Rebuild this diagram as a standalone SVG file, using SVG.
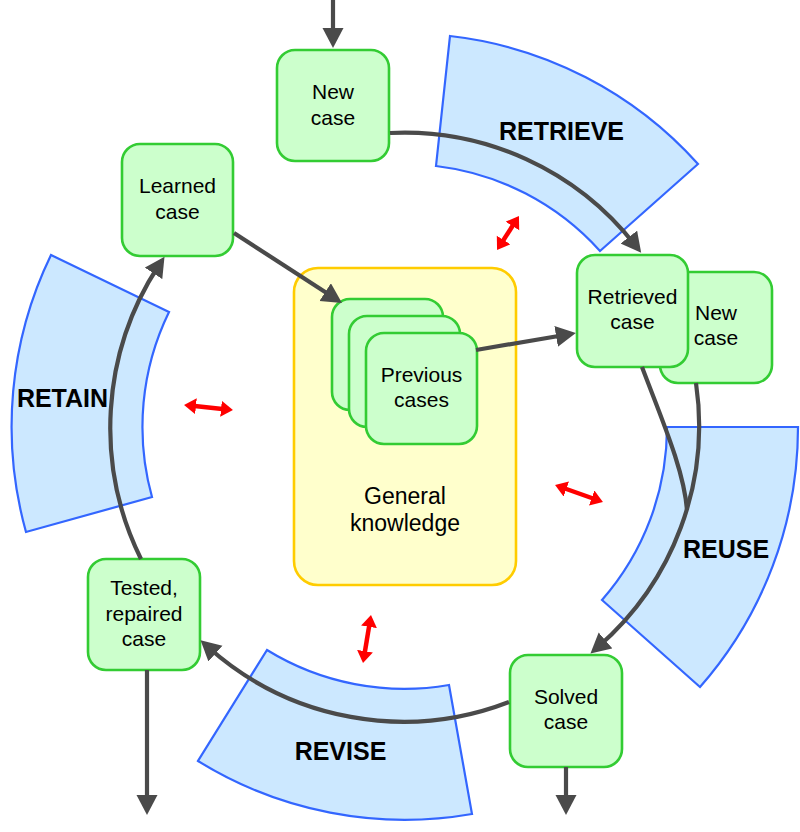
<svg xmlns="http://www.w3.org/2000/svg" width="800" height="832" viewBox="0 0 800 832">
<style>
.sector{fill:#cce8ff;stroke:#3366ff;stroke-width:2.2}
.node{fill:#ccffcc;stroke:#33cc33;stroke-width:2.6}
.gk{fill:#ffffcc;stroke:#ffcc00;stroke-width:2.6}
.conn{fill:none;stroke:#4a4a4a;stroke-width:4.2}
.red{fill:none;stroke:#ff0000;stroke-width:4.5}
.t{font-family:"Liberation Sans",Arial,sans-serif;font-size:21px;fill:#000;text-anchor:middle}
.gt{font-family:"Liberation Sans",Arial,sans-serif;font-size:23px;fill:#000;text-anchor:middle}
.lbl{font-family:"Liberation Sans",Arial,sans-serif;font-size:25px;font-weight:bold;fill:#000;text-anchor:middle}
</style>
<defs>
<marker id="ah" markerUnits="userSpaceOnUse" markerWidth="22" markerHeight="22" refX="10" refY="10.5" orient="auto"><path d="M0,0 L20,10.5 L0,21 z" fill="#4a4a4a"/></marker>
<marker id="rh" markerUnits="userSpaceOnUse" markerWidth="14" markerHeight="18" refX="6" refY="8" orient="auto-start-reverse"><path d="M0,0 L12,8 L0,16 z" fill="#ff0000"/></marker>
</defs>

<g id="sector-retrieve">
<path class="sector" d="M450,36 A393,393 0 0 1 698,164 L600,251 A262,262 0 0 0 436,166 Z"/>
<text class="lbl" x="561.5" y="140">RETRIEVE</text>
</g>
<g id="sector-reuse">
<path class="sector" d="M798,427 A393,393 0 0 1 700,687 L602,600 A262,262 0 0 0 667,427 Z"/>
<text class="lbl" x="726" y="558">REUSE</text>
</g>
<g id="sector-revise">
<path class="sector" d="M472,814 A393,393 0 0 1 198,761 L267,650 A262,262 0 0 0 449,685 Z"/>
<text class="lbl" x="340.5" y="760">REVISE</text>
</g>
<g id="sector-retain">
<path class="sector" d="M26,532 A393,393 0 0 1 51,255 L169,312 A262,262 0 0 0 152,497 Z"/>
<text class="lbl" x="62.5" y="407">RETAIN</text>
</g>

<g id="general-knowledge">
<rect class="gk" x="294" y="268" width="222" height="317" rx="24"/>
<text class="gt" x="405" y="504">General</text>
<text class="gt" x="405" y="531">knowledge</text>
</g>

<g id="new-case">
<rect class="node" x="277" y="50" width="112" height="111" rx="18"/>
<text class="t" x="333" y="99">New</text>
<text class="t" x="333" y="124.5">case</text>
</g>
<g id="learned-case">
<rect class="node" x="122" y="144" width="111" height="112" rx="18"/>
<text class="t" x="177.5" y="193">Learned</text>
<text class="t" x="177.5" y="219">case</text>
</g>
<g id="new-case-2">
<rect class="node" x="660" y="272" width="112" height="111" rx="18"/>
<text class="t" x="716" y="320">New</text>
<text class="t" x="716" y="345">case</text>
</g>
<g id="retrieved-case">
<rect class="node" x="577" y="255" width="111" height="112" rx="18"/>
<text class="t" x="632.5" y="303.5">Retrieved</text>
<text class="t" x="632.5" y="329">case</text>
</g>
<g id="previous-cases">
<rect class="node" x="332" y="299" width="111" height="111" rx="18"/>
<rect class="node" x="349" y="316" width="111" height="111" rx="18"/>
<rect class="node" x="366" y="333" width="111" height="111" rx="18"/>
<text class="t" x="421.5" y="382">Previous</text>
<text class="t" x="421.5" y="407">cases</text>
</g>
<g id="tested-case">
<rect class="node" x="88" y="559" width="112" height="111" rx="18"/>
<text class="t" x="144" y="595">Tested,</text>
<text class="t" x="144" y="620.5">repaired</text>
<text class="t" x="144" y="646">case</text>
</g>
<g id="solved-case">
<rect class="node" x="510" y="655" width="112" height="112" rx="18"/>
<text class="t" x="566" y="703.5">Solved</text>
<text class="t" x="566" y="729">case</text>
</g>

<g id="connectors">
<path class="conn" d="M333,0 L333,38" marker-end="url(#ah)"/>
<path class="conn" d="M390,133 A293,293 0 0 1 635,245" marker-end="url(#ah)"/>
<path class="conn" d="M696,383 A293,293 0 0 1 598,647" marker-end="url(#ah)"/>
<path class="conn" d="M642,367 C662,420 684,470 687,510"/>
<path class="conn" d="M509,702 A293,293 0 0 1 208,647" marker-end="url(#ah)"/>
<path class="conn" d="M141,559 A296,296 0 0 1 159,265" marker-end="url(#ah)"/>
<path class="conn" d="M234,233 L333.6,297.5" marker-end="url(#ah)"/>
<path class="conn" d="M476,350 L566,334.7" marker-end="url(#ah)"/>
<path class="conn" d="M147,670 L147,805" marker-end="url(#ah)"/>
<path class="conn" d="M566,767 L566,805" marker-end="url(#ah)"/>
<path class="red" d="M500.3,245 L515.7,221" marker-start="url(#rh)" marker-end="url(#rh)"/>
<path class="red" d="M190,405.6 L227,409.4" marker-start="url(#rh)" marker-end="url(#rh)"/>
<path class="red" d="M560.7,487 L597.3,500" marker-start="url(#rh)" marker-end="url(#rh)"/>
<path class="red" d="M370,620.9 L364,657.1" marker-start="url(#rh)" marker-end="url(#rh)"/>
</g>
</svg>
